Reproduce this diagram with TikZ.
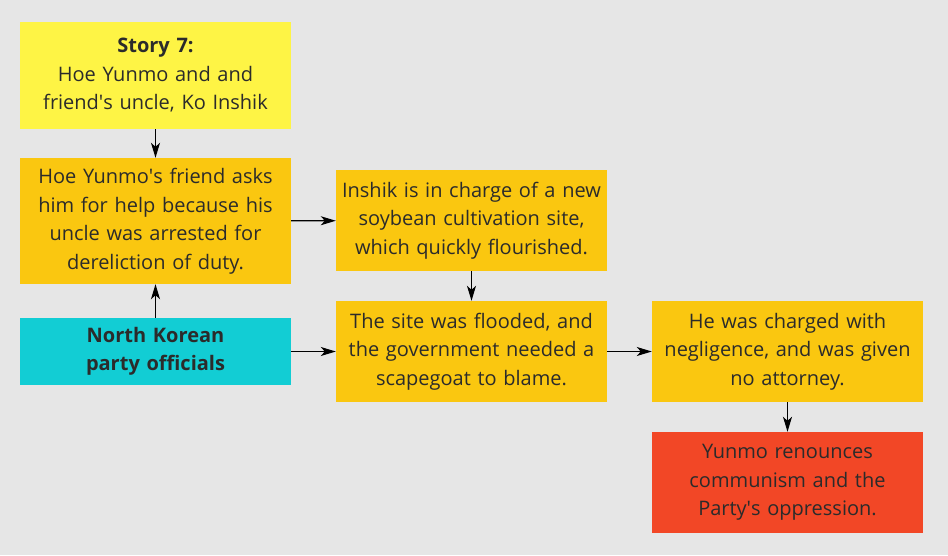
\documentclass[tikz,border=0pt]{standalone}
\usepackage{fontspec}
\setmainfont{Open Sans}
\usetikzlibrary{arrows.meta}
\definecolor{bggray}{HTML}{E6E6E6}
\definecolor{stickyyellow}{HTML}{FEF445}
\definecolor{stickyorange}{HTML}{FAC710}
\definecolor{stickycyan}{HTML}{12CDD4}
\definecolor{stickyred}{HTML}{F24726}
\definecolor{inkdark}{HTML}{2B2B2B}
\newcommand{\ap}{\textquotesingle}
\tikzset{
  card/.style={rectangle, inner sep=0pt, minimum width=271pt, text width=265pt,
    align=center, text=inkdark, font=\fontsize{20}{28.5}\selectfont},
  link/.style={-{Stealth[length=15pt,width=9pt,inset=4pt]}, line width=1.2pt, black},
}
\begin{document}
\begin{tikzpicture}[x=1pt, y=-1pt]
  % canvas
  \fill[bggray] (0,0) rectangle (948,555);
  \useasboundingbox (0,0) rectangle (948,555);

  % left column
  \node[card, fill=stickyyellow, minimum height=107pt] (story) at (155.5,75.5)
    {\textbf{Story 7:}\\Hoe Yunmo and and\\friend\ap s uncle, Ko Inshik};
  \node[card, fill=stickyorange, minimum height=126pt] (friend) at (155.5,221)
    {Hoe Yunmo\ap s friend asks\\him for help because his\\uncle was arrested for\\dereliction of duty.};
  \node[card, fill=stickycyan, minimum height=67pt] (officials) at (155.5,351.5)
    {\textbf{North Korean}\\\textbf{party officials}};

  % middle column
  \node[card, fill=stickyorange, minimum height=101pt] (inshik) at (471.5,220.5)
    {Inshik is in charge of a new\\soybean cultivation site,\\which quickly flourished.};
  \node[card, fill=stickyorange, minimum height=101pt] (flooded) at (471.5,351.5)
    {The site was flooded, and\\the government needed a\\scapegoat to blame.};

  % right column
  \node[card, fill=stickyorange, minimum height=101pt] (charged) at (787.5,351.5)
    {He was charged with\\negligence, and was given\\no attorney.};
  \node[card, fill=stickyred, minimum height=101pt] (renounce) at (787.5,482.5)
    {Yunmo renounces\\communism and the\\Party\ap s oppression.};

  % connectors
  \draw[link] (story) -- (friend);
  \draw[link] (officials) -- (friend);
  \draw[link] (friend) -- (inshik);
  \draw[link] (inshik) -- (flooded);
  \draw[link] (officials) -- (flooded);
  \draw[link] (flooded) -- (charged);
  \draw[link] (charged) -- (renounce);
\end{tikzpicture}
\end{document}
